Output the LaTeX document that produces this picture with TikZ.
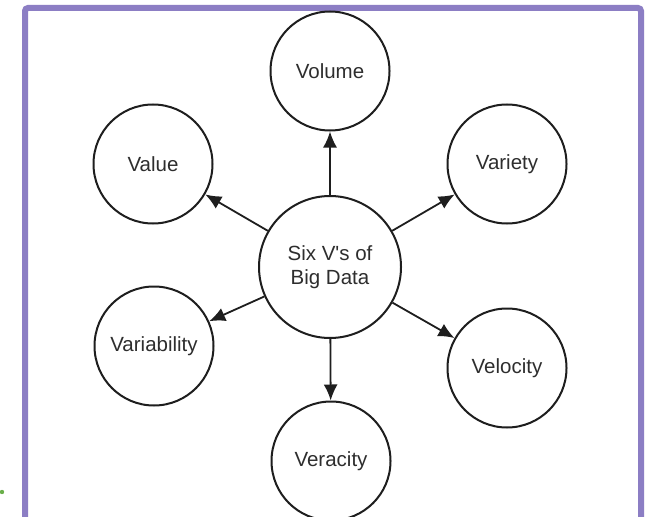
\documentclass[tikz,border=0pt]{standalone}
\usepackage{fontspec}
\setmainfont{Liberation Sans}
\usetikzlibrary{arrows.meta}
\definecolor{frame}{HTML}{8C7EC4}
\definecolor{dotgreen}{HTML}{6AAF4A}
\definecolor{ink}{HTML}{1E1E1E}
\definecolor{txt}{HTML}{2E2E2E}
\tikzset{
  vbox/.style={circle, draw=ink, line width=2pt, minimum size=119pt, inner sep=0pt, fill=white,
    font=\fontsize{20.5}{24}\selectfont, text=txt, align=center},
  hubbox/.style={vbox, minimum size=142pt},
  arr/.style={draw=ink, line width=1.8pt, -{Latex[length=16pt,width=14pt]}},
}
\begin{document}
\begin{tikzpicture}[x=1pt,y=1pt]
\useasboundingbox (0,0) rectangle (655,-516);
\clip (0,0) rectangle (655,-516);
\fill[white] (0,0) rectangle (655,-516);
\draw[frame, line width=6pt, rounded corners=3pt] (25,-540) -- (25,-8) -- (641,-8) -- (641,-540);
\fill[dotgreen] (2,-492) circle (2.2);
\node[hubbox] (c) at (330,-267) {Six V\textquotesingle s of\\Big Data};
\node[vbox] (vol) at (330,-71) {Volume};
\node[vbox] (val) at (153,-164) {Value};
\node[vbox] (vty) at (507,-164) {Variety};
\node[vbox] (vbl) at (154,-346) {Variability};
\node[vbox] (vel) at (507,-368) {Velocity};
\node[vbox] (ver) at (331,-461) {Veracity};
\draw[arr] (c) -- (vol);
\draw[arr] (c) -- (val);
\draw[arr] (c) -- (vty);
\draw[arr] (c) -- (vbl);
\draw[arr] (c) -- (vel);
\draw[arr] (c) -- (ver);
\end{tikzpicture}
\end{document}
